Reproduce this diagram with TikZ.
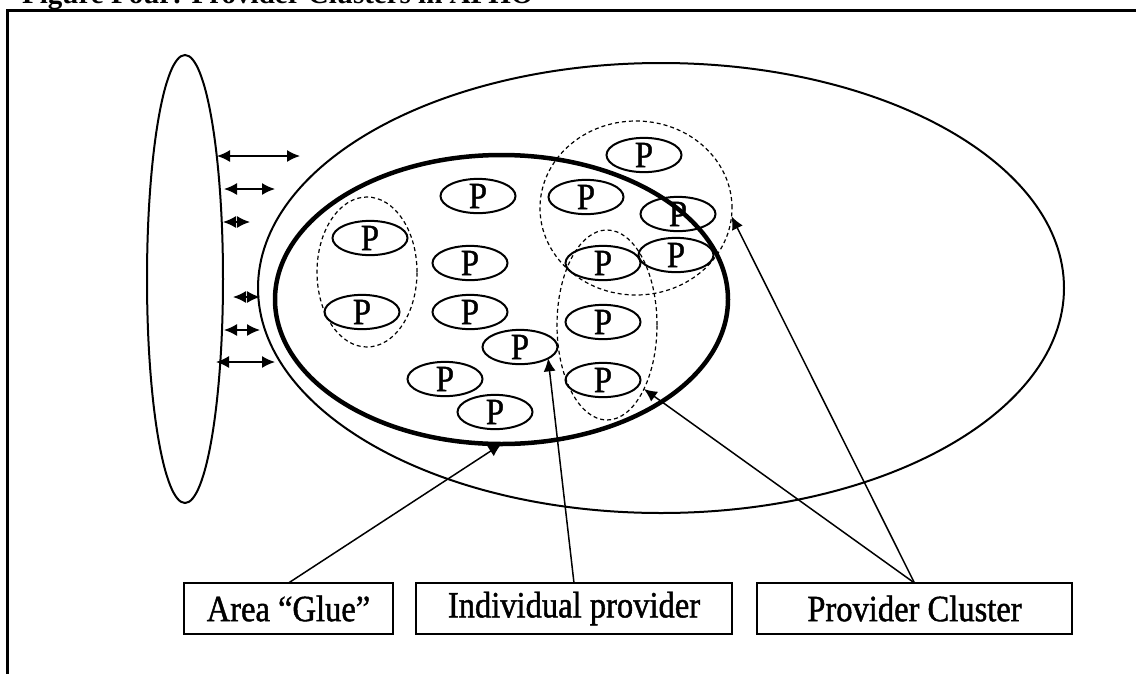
\documentclass[tikz,border=0pt]{standalone}
\usepackage{fontspec}
\setmainfont{Liberation Serif}
\newfontfamily\labelfont[FakeStretch=0.88,FakeBold=1.2]{Liberation Serif}
\usetikzlibrary{shapes.geometric,arrows.meta}
\tikzset{
  region/.style={ellipse,draw,line width=2pt,inner sep=0pt,outer sep=0pt},
  clus/.style={ellipse,draw,line width=1.2pt,dash pattern=on 4pt off 3pt,inner sep=0pt,outer sep=0pt},
  prov/.style={ellipse,draw,line width=2pt,minimum width=75pt,minimum height=32pt,inner sep=0pt,outer sep=0pt,font=\labelfont\fontsize{37}{37}\selectfont},
  lbl/.style={draw,line width=2.5pt,minimum height=51pt,inner sep=0pt,outer sep=0pt,font=\labelfont\fontsize{37}{37}\selectfont}
}
\begin{document}
\begin{tikzpicture}[x=1pt,y=-1pt,>={Latex[length=13pt,width=12pt]}]
				\useasboundingbox (0,0) rectangle (1136,673);
				\draw[line width=3pt] (7,680)--(7,10)--(1140,10);
				\node[anchor=base west,inner sep=0pt,font=\bfseries\fontsize{29}{29}\selectfont] (title) at (22,3) {Figure Four: Provider Clusters in APHO};
				\node[region,minimum width=76pt,minimum height=448pt] (access) at (185,279) {};
				\node[region,minimum width=806pt,minimum height=450pt] (apho) at (661,288) {};
				\node[region,line width=4.5pt,minimum width=453pt,minimum height=289pt] (glue) at (501.5,299.5) {};
				\node[clus,minimum width=100pt,minimum height=150pt] (cl1) at (367,272) {};
				\node[clus,minimum width=192pt,minimum height=174pt] (cl2) at (636,208) {};
				\node[clus,minimum width=100pt,minimum height=190pt] (cl3) at (607,325) {};
				\foreach \n/\x/\y in {1/478/196,2/370/238,3/362/312,4/470/263,5/470/312,6/520/347,7/445/379,8/495/412,
					9/644/155,10/586/197,11/678/214,12/603/263,13/676/255,14/603/322,15/603/380}
					\node[prov] (p\n) at (\x,\y) {P};
				\foreach \i/\y/\xa/\xb in {1/156/217/300,2/189/224/275,3/222/223/250,4/297/233/260,5/330/224/260,6/362/216/275}{
					\coordinate (la\i) at (\xa,\y);
					\coordinate (lb\i) at (\xb,\y);
					\draw[<->,line width=1.5pt] (la\i)--(lb\i);
				}
				\node[lbl,minimum width=209pt] (areabox) at (288.5,608.5) {Area “Glue”};
				\node[lbl,minimum width=316pt] (indbox) at (574,608.5) {Individual provider};
				\node[lbl,minimum width=315pt] (clusbox) at (914.5,608.5) {Provider Cluster};
				\draw[->,line width=1.5pt] (areabox.north)--(glue.south);
				\draw[->,line width=1.5pt] (indbox.north)--(p6.-22);
				\draw[->,line width=1.5pt] (clusbox.north)--(cl2.-5);
				\draw[->,line width=1.5pt] (clusbox.north)--(cl3.-60);
			\end{tikzpicture}
\end{document}
